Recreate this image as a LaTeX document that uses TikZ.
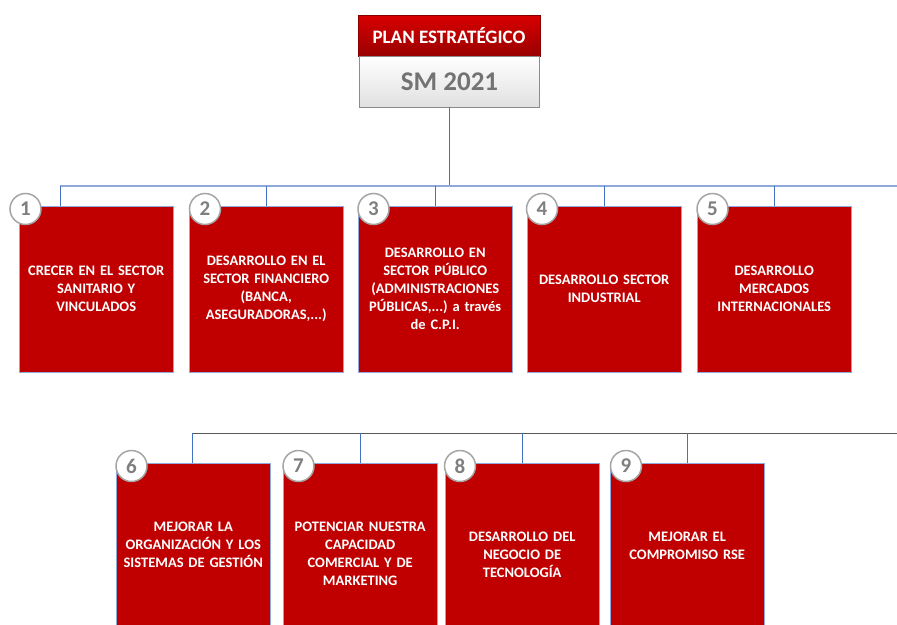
\documentclass[tikz,border=0pt]{standalone}
\usepackage{fontspec}
\setmainfont{Carlito}
\usetikzlibrary{shapes.geometric, arrows, shadows}

\definecolor{planRed}{RGB}{192,0,0}
\definecolor{busBlue}{RGB}{142,169,219}
\definecolor{dropBlue}{RGB}{68,114,196}
\definecolor{busGray}{RGB}{89,89,89}
\definecolor{numGray}{RGB}{127,127,127}

\tikzstyle{goal} = [rectangle, anchor=north west, minimum width=154pt,
minimum height=166pt, text width=150pt, align=center, inner sep=0pt,
draw=busBlue, fill=planRed, text=white,
font=\frenchspacing\bfseries\fontsize{14.5}{18}\selectfont]
\tikzstyle{number} = [circle, minimum size=31pt, inner sep=0pt,
draw=numGray!70, line width=1.5pt, fill=white, text=numGray,
font=\bfseries\fontsize{21}{21}\selectfont]
\tikzstyle{title} = [rectangle, minimum width=182pt, minimum height=41pt,
top color=red!85!black, bottom color=planRed!80!black, draw=planRed!70!black,
text=white, font=\bfseries\fontsize{19}{19}\selectfont,
drop shadow={shadow xshift=1pt, shadow yshift=-1pt, opacity=0.3}]
\tikzstyle{year} = [rectangle, minimum width=180pt, minimum height=51pt,
top color=white, bottom color=black!12, draw=black!45,
text=black!55, font=\bfseries\fontsize{27}{27}\selectfont]
\tikzstyle{link} = [draw=busBlue, line width=1.2pt]
\tikzstyle{drop} = [draw=dropBlue, line width=0.8pt]

\begin{document}
\begin{tikzpicture}[x=1pt, y=-1pt]
\clip (0,0) rectangle (897,624);
\fill[white] (0,0) rectangle (897,624);

% header
\node(planTitle)[title] at (449,35.5){PLAN ESTRATÉGICO};
\node(planYear)[year] at (449.5,81.5){SM 2021};

% buses
\coordinate (topBusLeft) at (60,186);
\coordinate (topBusRight) at (897,186);
\coordinate (lowBusLeft) at (192,433);
\coordinate (lowBusRight) at (897,433);

% first row
\node(sanitario)[goal] at (19,206){CRECER EN EL SECTOR\\SANITARIO Y\\VINCULADOS};
\node(financiero)[goal] at (189,206){DESARROLLO EN EL\\SECTOR FINANCIERO\\(BANCA,\\ASEGURADORAS,...)};
\node(publico)[goal] at (358,206){DESARROLLO EN\\SECTOR PÚBLICO\\(ADMINISTRACIONES\\PÚBLICAS,...) a través\\de C.P.I.};
\node(industrial)[goal] at (527,206){DESARROLLO SECTOR\\INDUSTRIAL};
\node(internacional)[goal] at (697,206){DESARROLLO\\MERCADOS\\INTERNACIONALES};

% second row
\node(organizacion)[goal, minimum height=164pt] at (116,463){MEJORAR LA\\ORGANIZACIÓN Y LOS\\SISTEMAS DE GESTIÓN};
\node(comercial)[goal, minimum height=182pt] at (283,463){POTENCIAR NUESTRA\\CAPACIDAD\\COMERCIAL Y DE\\MARKETING};
\node(tecnologia)[goal, minimum height=184pt] at (445,463){DESARROLLO DEL\\NEGOCIO DE\\TECNOLOGÍA};
\node(rse)[goal] at (610,463){MEJORAR EL\\COMPROMISO RSE};

\draw[drop](planYear.south) -- (planYear.south |- topBusLeft);
\draw[link](topBusLeft) -- (topBusRight);
\draw[drop](topBusLeft) -- (topBusLeft |- sanitario.north);
\draw[drop](financiero.north |- topBusLeft) -- (financiero.north);
\draw[drop](publico.north |- topBusLeft) -- (publico.north);
\draw[drop](industrial.north |- topBusLeft) -- (industrial.north);
\draw[drop](internacional.north |- topBusLeft) -- (internacional.north);

\draw[draw=busGray, line width=1pt](lowBusLeft) -- (lowBusRight);
\draw[drop](lowBusLeft) -- (lowBusLeft |- organizacion.north);
\draw[drop](comercial.north |- lowBusLeft) -- (comercial.north);
\draw[drop](tecnologia.north |- lowBusLeft) -- (tecnologia.north);
\draw[drop](rse.north |- lowBusLeft) -- (rse.north);

% numbers
\node(numOne)[number] at (25.5,209){1};
\node(numTwo)[number] at (205,209){2};
\node(numThree)[number] at (373.5,209){3};
\node(numFour)[number] at (542,209){4};
\node(numFive)[number] at (712.5,209){5};
\node(numSix)[number] at (131.5,466){6};
\node(numSeven)[number] at (298.5,466){7};
\node(numEight)[number] at (460,466){8};
\node(numNine)[number] at (626,466){9};

\end{tikzpicture}
\end{document}
